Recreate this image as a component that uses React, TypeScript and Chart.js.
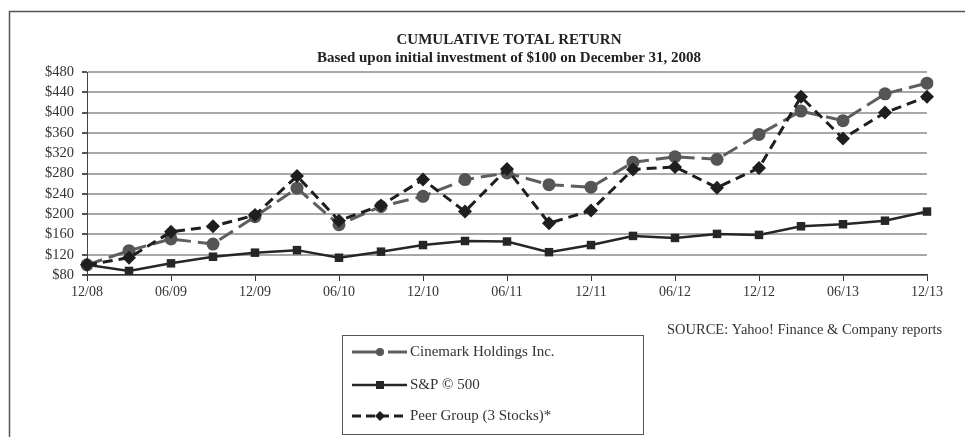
import React, { useEffect, useRef } from "react";
import { Chart, registerables } from "chart.js";

Chart.register(...registerables);

const quarters = [
  "12/08", "03/09", "06/09", "09/09", "12/09", "03/10", "06/10", "09/10", "12/10", "03/11", "06/11",
  "09/11", "12/11", "03/12", "06/12", "09/12", "12/12", "03/13", "06/13", "09/13", "12/13",
];
const cinemark = [100, 128, 151, 141, 195, 251, 179, 215, 235, 268, 281, 258, 253, 302, 313, 308, 357, 403, 384, 437, 458];
const sp500 = [100, 88, 103, 116, 124, 129, 114, 126, 139, 147, 146, 125, 139, 157, 153, 161, 159, 176, 180, 187, 205];
const peerGroup = [100, 114, 165, 176, 198, 275, 187, 217, 268, 205, 289, 182, 207, 288, 293, 252, 291, 431, 349, 400, 431];

const seriesNames = ["Cinemark Holdings Inc.", "S&P \u00A9 500", "Peer Group (3 Stocks)*"];
const titleText = "CUMULATIVE TOTAL RETURN";
const subtitleText = "Based upon initial investment of $100 on December 31, 2008";
const sourceText = "SOURCE: Yahoo! Finance & Company reports";

const SERIF = '"Liberation Serif", "Times New Roman", serif';

const decorPlugin = {
  id: "decor",
  afterDraw(chart: any) {
    const ctx = chart.ctx as CanvasRenderingContext2D;
    const area = chart.chartArea;
    ctx.save();
    // outer frame
    ctx.strokeStyle = "#555";
    ctx.lineWidth = 1.5;
    ctx.beginPath();
    ctx.moveTo(9.5, 437);
    ctx.lineTo(9.5, 11.5);
    ctx.lineTo(965, 11.5);
    ctx.stroke();

    // titles
    const cx = (area.left + area.right) / 2 + 2;
    ctx.fillStyle = "#222";
    ctx.textAlign = "center";
    ctx.textBaseline = "middle";
    ctx.font = `bold 15px ${SERIF}`;
    ctx.fillText(titleText, cx, 40);
    ctx.fillText(subtitleText, cx, 58);

    // source
    ctx.font = `14.5px ${SERIF}`;
    ctx.fillStyle = "#333";
    ctx.textAlign = "left";
    ctx.fillText(sourceText, 667, 330);

    // legend box
    ctx.strokeStyle = "#555";
    ctx.lineWidth = 1;
    ctx.strokeRect(342.5, 335.5, 301, 99);
    const rows = [352, 385, 416];
    const x0 = 352, x1 = 407, mx = 380;
    chart.data.datasets.forEach((ds: any, i: number) => {
      const y = rows[i];
      ctx.save();
      ctx.strokeStyle = ds.borderColor;
      ctx.lineWidth = ds.borderWidth;
      ctx.setLineDash(i === 0 ? [26, 10] : i === 2 ? [9, 5] : []);
      ctx.beginPath();
      ctx.moveTo(x0, y);
      ctx.lineTo(x1, y);
      ctx.stroke();
      ctx.restore();
      ctx.fillStyle = ds.pointBackgroundColor;
      ctx.beginPath();
      if (ds.pointStyle === "circle") {
        ctx.arc(mx, y, 4, 0, Math.PI * 2);
      } else if (ds.pointStyle === "rect") {
        ctx.rect(mx - 4, y - 4, 8, 8);
      } else {
        ctx.moveTo(mx - 5, y);
        ctx.lineTo(mx, y - 5);
        ctx.lineTo(mx + 5, y);
        ctx.lineTo(mx, y + 5);
        ctx.closePath();
      }
      ctx.fill();
      ctx.fillStyle = "#333";
      ctx.font = `15px ${SERIF}`;
      ctx.textAlign = "left";
      ctx.textBaseline = "middle";
      ctx.fillText(seriesNames[i], 410, y);
    });
    ctx.restore();
  },
};

export default function App() {
  const ref = useRef<HTMLCanvasElement>(null);
  useEffect(() => {
    if (!ref.current) return;
    const chart = new Chart(ref.current, {
      type: "line",
      data: {
        labels: quarters,
        datasets: [
          {
            label: seriesNames[0],
            data: cinemark,
            borderColor: "#5e5e5e",
            borderWidth: 3,
            borderDash: [16, 7],
            pointStyle: "circle",
            pointRadius: 6.5,
            pointBackgroundColor: "#555",
            pointBorderColor: "#555",
            pointBorderWidth: 0,
            tension: 0,
            order: 1,
          },
          {
            label: seriesNames[1],
            data: sp500,
            borderColor: "#262626",
            borderWidth: 2.5,
            pointStyle: "rect",
            pointRadius: 6,
            pointBackgroundColor: "#262626",
            pointBorderColor: "#262626",
            pointBorderWidth: 0,
            tension: 0,
            order: 2,
          },
          {
            label: seriesNames[2],
            data: peerGroup,
            borderColor: "#1e1e1e",
            borderWidth: 3,
            borderDash: [10, 6],
            pointStyle: "rectRot",
            pointRadius: 7,
            pointBackgroundColor: "#1e1e1e",
            pointBorderColor: "#1e1e1e",
            pointBorderWidth: 0,
            tension: 0,
            order: 0,
          },
        ],
      },
      options: {
        animation: false,
        responsive: true,
        maintainAspectRatio: false,
        layout: { padding: { top: 72, right: 38, left: 0, bottom: 0 } },
        plugins: {
          legend: { display: false },
          title: { display: false },
          tooltip: { enabled: false },
        },
        scales: {
          x: {
            type: "category",
            offset: false,
            afterFit: (s: any) => {
              s.height = 162;
            },
            grid: {
              drawOnChartArea: false,
              drawTicks: true,
              tickLength: 6,
              tickColor: (c: any) => (c.index % 2 === 0 ? "#333" : "rgba(0,0,0,0)"),
            },
            border: { display: true, color: "#333", width: 1.5 },
            ticks: {
              autoSkip: false,
              maxRotation: 0,
              padding: 3,
              color: "#333",
              font: { family: SERIF, size: 14 },
              callback: (_v: any, i: number) => (i % 2 === 0 ? quarters[i] : ""),
            },
          },
          y: {
            min: 80,
            max: 480,
            afterFit: (s: any) => {
              s.width = 87;
            },
            grid: {
              color: "#a8a8a8",
              lineWidth: 2,
              tickLength: 5,
              tickColor: "#555",
            },
            border: { display: true, color: "#444", width: 1 },
            ticks: {
              stepSize: 40,
              autoSkip: false,
              padding: 8,
              color: "#333",
              font: { family: SERIF, size: 14.5 },
              callback: (v: any) => `$${v}`,
            },
          },
        },
      },
      plugins: [decorPlugin],
    });
    return () => chart.destroy();
  }, []);
  return (
    <div style={{ position: "fixed", left: 0, top: 0, width: 965, height: 437, background: "#fff" }}>
      <canvas ref={ref} />
    </div>
  );
}
